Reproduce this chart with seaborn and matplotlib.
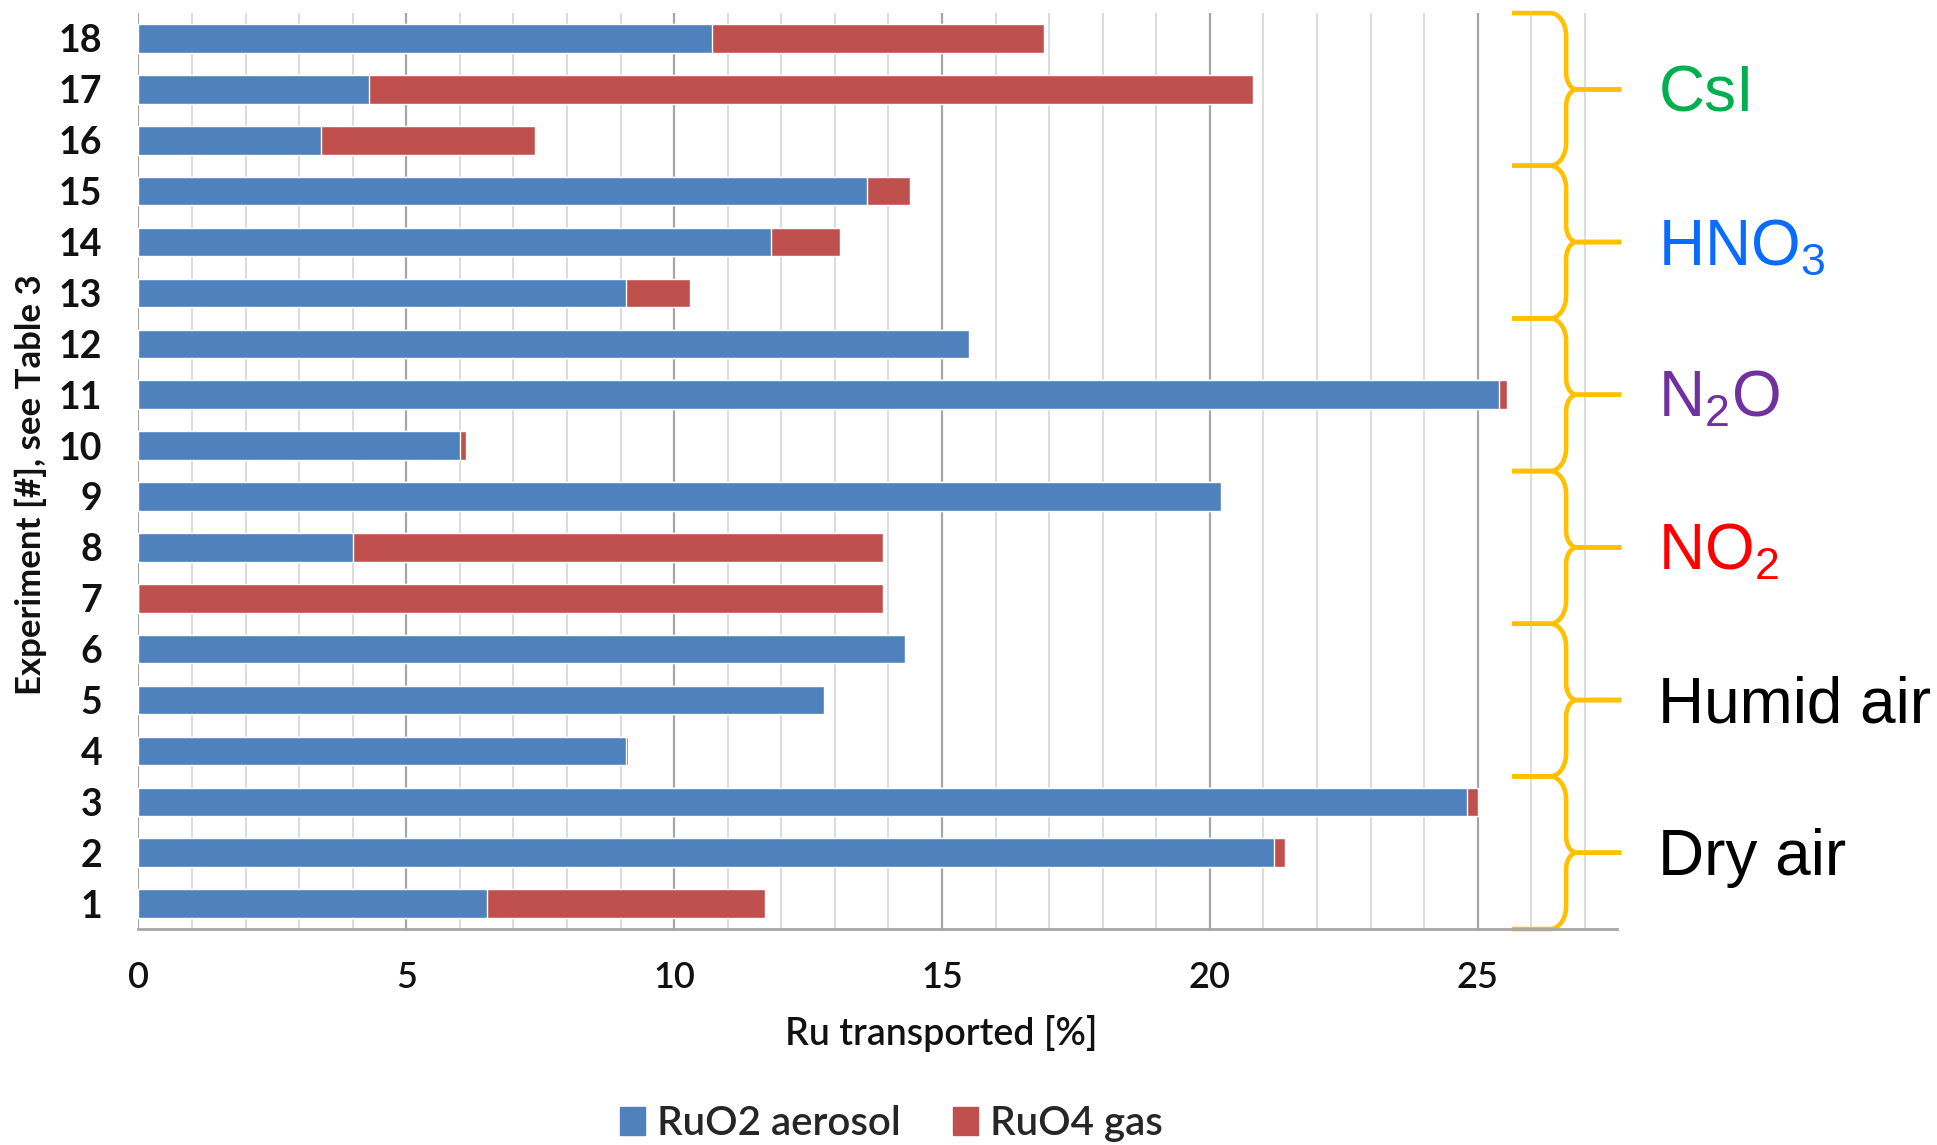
# Ru transport per experiment: RuO2 aerosol vs RuO4 gas, grouped by atmosphere
import numpy as np
import pandas as pd
import seaborn as sns
import matplotlib.pyplot as plt
from matplotlib.patches import Patch

# values (Ru transported, %)
experiments = [str(i) for i in range(1, 19)]
ruo2_aerosol = [6.5, 21.2, 24.8, 9.1, 12.8, 14.3, 0.0, 4.0, 20.2,
                6.0, 25.4, 15.5, 9.1, 11.8, 13.6, 3.4, 4.3, 10.7]
ruo4_gas = [5.2, 0.2, 0.2, 0.03, 0.0, 0.0, 13.9, 9.9, 0.0,
            0.12, 0.15, 0.0, 1.2, 1.3, 0.8, 4.0, 16.5, 6.2]

# atmosphere groups, three experiments each (first experiment of each group)
group_labels = ['Dry air', 'Humid air', 'NO$_2$', 'N$_2$O', 'HNO$_3$', 'CsI']
group_colors = ['black', 'black', '#FF0000', '#7030A0', '#0A6CFF', '#00B050']
group_first = [1, 4, 7, 10, 13, 16]

blue = '#4F81BD'
red = '#C0504D'
gold = '#FFC000'

df = pd.DataFrame({'exp': experiments, 'aerosol': ruo2_aerosol, 'gas': ruo4_gas})
df['total'] = df['aerosol'] + df['gas']
order = experiments[::-1]

sns.set_theme(style='white')
plt.rcParams['font.family'] = ['Lato', 'DejaVu Sans']
plt.rcParams['mathtext.fontset'] = 'custom'
plt.rcParams['mathtext.rm'] = 'Liberation Sans'
plt.rcParams['mathtext.default'] = 'regular'

fig = plt.figure(figsize=(19.37, 11.45), dpi=100)
ax = fig.add_axes([0.0715, 0.1886, 0.7633, 0.8000])

# stacked bars: total in red, aerosol part in blue on top
sns.barplot(data=df, y='exp', x='total', order=order, orient='h', color=red,
            saturation=1, width=0.56, ax=ax)
sns.barplot(data=df, y='exp', x='aerosol', order=order, orient='h', color=blue,
            saturation=1, width=0.56, ax=ax)

ax.set_ylim(len(order) - 0.5, -0.5)
ax.set_xlim(0, 27.6)
ax.set_xticks(range(0, 26, 5))
ax.set_xticks(range(0, 28), minor=True)
ax.grid(which='minor', axis='x', color='#D9D9D9', lw=1.3)
ax.grid(which='major', axis='x', color='#A6A6A6', lw=1.6)
ax.set_axisbelow(True)
for s in ['top', 'right', 'left']:
    ax.spines[s].set_visible(False)
ax.spines['bottom'].set_color('#A6A6A6')
ax.spines['bottom'].set_linewidth(2)

ax.tick_params(axis='y', length=0, pad=26, labelsize=27, labelcolor='#111111')
for lab in ax.get_yticklabels():
    lab.set_fontweight('bold')
ax.tick_params(axis='x', which='major', length=9, width=1.5, color='#A6A6A6',
               pad=14, labelsize=26, labelcolor='#111111')
ax.tick_params(axis='x', which='minor', length=0)
for lab in ax.get_xticklabels():
    lab.set_fontweight('semibold')

ax.set_ylabel('Experiment [#], see Table 3', fontsize=25, fontweight='bold', color='#111111')
ax.yaxis.set_label_coords(-0.062, 0.485)
ax.set_xlabel('Ru transported [%]', fontsize=27, fontweight='semibold', color='#111111')
ax.xaxis.set_label_coords(0.543, -0.094)

handles = [Patch(color=blue, label='RuO2 aerosol'), Patch(color=red, label='RuO4 gas')]
fig.legend(handles=handles, loc='center', bbox_to_anchor=(0.46, 0.019), ncol=2,
           frameon=False, prop={'size': 29, 'weight': 'semibold'},
           handlelength=0.62, handleheight=0.7, handletextpad=0.3, columnspacing=1.3)


def brace(ax, yt, yb, x0=25.64, x1=26.65, x2=27.68, rx=0.3, ry=0.45, cx=0.2, cy=0.33):
    ym = (yt + yb) / 2
    t = np.linspace(0, np.pi / 2, 25)
    end_x = x1 - rx + rx * np.sin(t)
    end_y = yt + ry - ry * np.cos(t)
    cusp_x = x1 + cx - cx * np.cos(t)
    cusp_y = ym - cy + cy * np.sin(t)
    xs = np.concatenate([[x0], end_x, cusp_x, [x2]])
    ys = np.concatenate([[yt], end_y, cusp_y, [ym]])
    for yy in (ys, 2 * ym - ys):
        ax.plot(xs, yy, color=gold, lw=3.3, clip_on=False, solid_capstyle='butt')
    return ym


for label, col, first in zip(group_labels, group_colors, group_first):
    top = order.index(str(first + 2)) - 0.5
    bot = order.index(str(first)) + 0.5
    ym = brace(ax, top, bot)
    ax.text(28.37, ym + 0.44, label, color=col, fontsize=46, va='baseline', ha='left',
            family='Liberation Sans', clip_on=False)

fig.savefig('out.png', dpi=100, facecolor='white')
